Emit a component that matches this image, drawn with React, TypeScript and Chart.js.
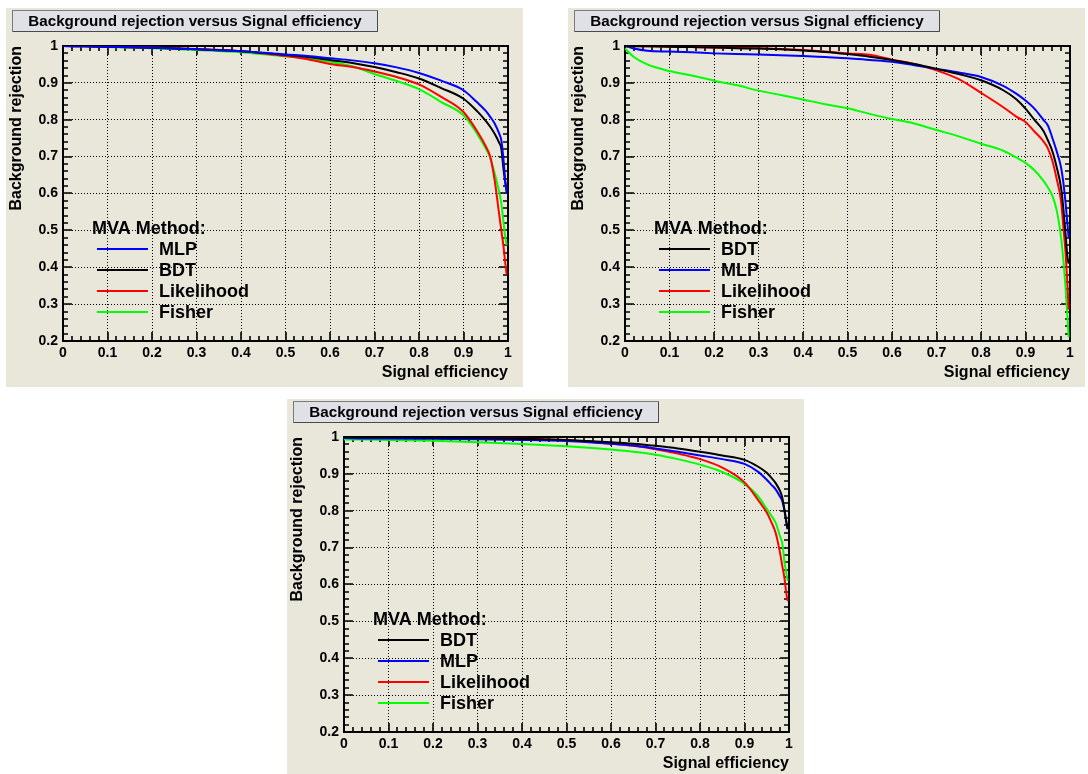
import React, { useEffect, useRef } from 'react';
import { Chart, registerables } from 'chart.js';

Chart.register(...registerables);

// ---------- text ----------
const TITLE = 'Background rejection versus Signal efficiency';
const X_TITLE = 'Signal efficiency';
const Y_TITLE = 'Background rejection';
const LEGEND_HEADER = 'MVA Method:';
const X_TICK_LABELS = ['0', '0.1', '0.2', '0.3', '0.4', '0.5', '0.6', '0.7', '0.8', '0.9', '1'];
const Y_TICK_LABELS = ['0.2', '0.3', '0.4', '0.5', '0.6', '0.7', '0.8', '0.9', '1'];

// ---------- panel 1 (top left) ----------
const P1_EFF = [0, 0.05, 0.1, 0.2, 0.3, 0.4, 0.5, 0.55, 0.6, 0.65, 0.7, 0.75, 0.8, 0.85, 0.9, 0.93, 0.95, 0.96, 0.97, 0.98, 0.985, 0.99, 0.994, 0.997];
const P1_MLP = [1.0, 0.999, 0.998, 0.995, 0.991, 0.986, 0.977, 0.973, 0.967, 0.961, 0.953, 0.942, 0.927, 0.906, 0.88, 0.848, 0.824, 0.808, 0.79, 0.763, 0.744, 0.69, 0.63, 0.6];
const P1_BDT = [1.0, 0.999, 0.998, 0.995, 0.991, 0.986, 0.976, 0.97, 0.962, 0.954, 0.943, 0.929, 0.912, 0.886, 0.857, 0.824, 0.797, 0.781, 0.762, 0.738, 0.722, 0.665, 0.63, 0.61];
const P1_LIKELIHOOD = [1.0, 0.999, 0.998, 0.996, 0.992, 0.986, 0.973, 0.964, 0.951, 0.943, 0.931, 0.916, 0.896, 0.862, 0.821, 0.77, 0.728, 0.7, 0.636, 0.545, 0.5, 0.455, 0.41, 0.38];
const P1_FISHER = [1.0, 0.999, 0.997, 0.994, 0.989, 0.983, 0.972, 0.966, 0.957, 0.945, 0.924, 0.905, 0.883, 0.848, 0.812, 0.763, 0.722, 0.697, 0.655, 0.605, 0.573, 0.52, 0.48, 0.46];

// ---------- panel 2 (top right) ----------
const P2_EFF = [0, 0.02, 0.05, 0.1, 0.15, 0.2, 0.25, 0.3, 0.35, 0.4, 0.45, 0.5, 0.55, 0.6, 0.65, 0.7, 0.75, 0.8, 0.85, 0.88, 0.9, 0.92, 0.94, 0.95, 0.96, 0.97, 0.98, 0.985, 0.99, 0.994, 0.997];
const P2_BDT = [1.0, 0.999, 0.999, 0.998, 0.997, 0.996, 0.994, 0.993, 0.991, 0.988, 0.984, 0.978, 0.971, 0.962, 0.951, 0.938, 0.924, 0.907, 0.88, 0.855, 0.83, 0.8, 0.77, 0.745, 0.716, 0.672, 0.615, 0.56, 0.49, 0.43, 0.41];
const P2_MLP = [1.0, 0.993, 0.987, 0.985, 0.983, 0.98, 0.978, 0.977, 0.975, 0.973, 0.97, 0.967, 0.962, 0.957, 0.948, 0.938, 0.928, 0.916, 0.892, 0.87, 0.852, 0.83, 0.8, 0.785, 0.752, 0.715, 0.67, 0.63, 0.575, 0.52, 0.48];
const P2_LIKELIHOOD = [1.0, 1.0, 0.999, 0.998, 0.997, 0.996, 0.995, 0.994, 0.992, 0.989, 0.985, 0.98, 0.976, 0.963, 0.951, 0.934, 0.91, 0.873, 0.834, 0.808, 0.794, 0.768, 0.742, 0.723, 0.69, 0.64, 0.578, 0.51, 0.44, 0.36, 0.285];
const P2_FISHER = [0.993, 0.97, 0.95, 0.932, 0.92, 0.906, 0.894, 0.879, 0.867, 0.855, 0.842, 0.831, 0.816, 0.802, 0.79, 0.772, 0.755, 0.735, 0.716, 0.697, 0.683, 0.663, 0.635, 0.617, 0.595, 0.555, 0.48, 0.42, 0.345, 0.27, 0.21];

// ---------- panel 3 (bottom) ----------
const P3_EFF = [0, 0.05, 0.1, 0.2, 0.3, 0.4, 0.5, 0.55, 0.6, 0.65, 0.7, 0.75, 0.8, 0.85, 0.9, 0.93, 0.95, 0.96, 0.97, 0.98, 0.985, 0.99, 0.994, 0.997];
const P3_BDT = [1.0, 0.999, 0.999, 0.998, 0.997, 0.995, 0.992, 0.989, 0.986, 0.982, 0.976, 0.969, 0.96, 0.95, 0.938, 0.92, 0.903, 0.89, 0.875, 0.853, 0.835, 0.8, 0.77, 0.75];
const P3_MLP = [0.997, 0.996, 0.996, 0.995, 0.994, 0.992, 0.989, 0.986, 0.982, 0.977, 0.969, 0.96, 0.95, 0.94, 0.927, 0.906, 0.884, 0.871, 0.858, 0.838, 0.826, 0.8, 0.77, 0.75];
const P3_LIKELIHOOD = [1.0, 0.999, 0.999, 0.998, 0.997, 0.995, 0.991, 0.987, 0.982, 0.976, 0.967, 0.955, 0.94, 0.917, 0.877, 0.83, 0.795, 0.77, 0.74, 0.685, 0.65, 0.615, 0.575, 0.555];
const P3_FISHER = [0.993, 0.993, 0.992, 0.99, 0.986, 0.981, 0.975, 0.971, 0.966, 0.96, 0.952, 0.94, 0.925, 0.905, 0.873, 0.84, 0.805, 0.787, 0.767, 0.73, 0.71, 0.66, 0.63, 0.61];

const COLORS: Record<string, string> = {
  MLP: '#0000ff',
  BDT: '#000000',
  Likelihood: '#ff0000',
  Fisher: '#00ff00',
};

type Series = { label: string; x: number[]; y: number[] };

const PANEL1: Series[] = [
  { label: 'MLP', x: P1_EFF, y: P1_MLP },
  { label: 'BDT', x: P1_EFF, y: P1_BDT },
  { label: 'Likelihood', x: P1_EFF, y: P1_LIKELIHOOD },
  { label: 'Fisher', x: P1_EFF, y: P1_FISHER },
];
const PANEL2: Series[] = [
  { label: 'BDT', x: P2_EFF, y: P2_BDT },
  { label: 'MLP', x: P2_EFF, y: P2_MLP },
  { label: 'Likelihood', x: P2_EFF, y: P2_LIKELIHOOD },
  { label: 'Fisher', x: P2_EFF, y: P2_FISHER },
];
const PANEL3: Series[] = [
  { label: 'BDT', x: P3_EFF, y: P3_BDT },
  { label: 'MLP', x: P3_EFF, y: P3_MLP },
  { label: 'Likelihood', x: P3_EFF, y: P3_LIKELIHOOD },
  { label: 'Fisher', x: P3_EFF, y: P3_FISHER },
];

const FONT = "'Liberation Sans', Arial, Helvetica, sans-serif";
const BG = '#e9e6da';

const PLOT_LEFT = 57;
const PLOT_TOP = 38;
const PLOT_RIGHT = 502;
const PLOT_BOTTOM = 333;

const rootPlugin = {
  id: 'rootPanel',
  beforeDraw(chart: any) {
    const { ctx, width, height } = chart;
    ctx.save();
    ctx.fillStyle = BG;
    ctx.fillRect(0, 0, width, height);
    // title box
    const bx = 6, by = 2, bw = 366, bh = 22;
    ctx.fillStyle = '#dfe1e6';
    ctx.fillRect(bx, by, bw, bh);
    ctx.strokeStyle = '#7a7a7a';
    ctx.lineWidth = 1;
    ctx.strokeRect(bx + 0.5, by + 0.5, bw - 1, bh - 1);
    ctx.strokeStyle = '#4a4a4a';
    ctx.beginPath();
    ctx.moveTo(bx + 1, by + bh - 0.5);
    ctx.lineTo(bx + bw - 0.5, by + bh - 0.5);
    ctx.lineTo(bx + bw - 0.5, by + 1);
    ctx.stroke();
    ctx.fillStyle = '#000';
    ctx.font = `bold 15.2px ${FONT}`;
    ctx.textAlign = 'center';
    ctx.textBaseline = 'middle';
    ctx.fillText(TITLE, bx + bw / 2, by + bh / 2 + 1);
    ctx.restore();
  },
  beforeDatasetsDraw(chart: any) {
    const { ctx, chartArea: ca, scales } = chart;
    const xs = scales.x, ys = scales.y;
    ctx.save();
    ctx.strokeStyle = '#000';
    ctx.lineWidth = 2;
    ctx.strokeRect(ca.left, ca.top, ca.right - ca.left, ca.bottom - ca.top);
    ctx.lineWidth = 1.6;
    ctx.beginPath();
    for (let i = 0; i <= 50; i++) {
      const px = Math.round(xs.getPixelForValue(i * 0.02));
      const len = i % 5 === 0 ? 9 : 5;
      ctx.moveTo(px, ca.bottom);
      ctx.lineTo(px, ca.bottom - len);
      ctx.moveTo(px, ca.top);
      ctx.lineTo(px, ca.top + len);
    }
    for (let i = 0; i <= 40; i++) {
      const py = Math.round(ys.getPixelForValue(0.2 + i * 0.02));
      const len = i % 5 === 0 ? 9 : 5;
      ctx.moveTo(ca.left, py);
      ctx.lineTo(ca.left + len, py);
      ctx.moveTo(ca.right, py);
      ctx.lineTo(ca.right - len, py);
    }
    ctx.stroke();
    ctx.restore();
  },
  afterDatasetsDraw(chart: any) {
    const { ctx, chartArea: ca } = chart;
    ctx.save();
    ctx.fillStyle = '#000';
    ctx.font = `bold 18px ${FONT}`;
    ctx.textAlign = 'left';
    ctx.textBaseline = 'middle';
    ctx.fillText(LEGEND_HEADER, ca.left + 29, ca.top + 183);
    chart.data.datasets.forEach((ds: any, i: number) => {
      const y = ca.top + 203 + i * 21;
      ctx.strokeStyle = ds.borderColor;
      ctx.lineWidth = 2;
      ctx.beginPath();
      ctx.moveTo(ca.left + 34, y);
      ctx.lineTo(ca.left + 85, y);
      ctx.stroke();
      ctx.fillStyle = '#000';
      ctx.fillText(ds.label, ca.left + 96, y + 1);
    });
    ctx.restore();
  },
};

function Panel({ left, top, width, height, series }: { left: number; top: number; width: number; height: number; series: Series[] }) {
  const ref = useRef<HTMLCanvasElement>(null);
  useEffect(() => {
    const canvas = ref.current;
    if (!canvas) return;
    const xTitleCenter = PLOT_BOTTOM + 32;
    const xTitlePad = Math.max(0, height - xTitleCenter - 9.6);
    const chart = new Chart(canvas, {
      type: 'scatter',
      data: {
        datasets: series.map((s) => ({
          label: s.label,
          data: s.x.map((x, i) => ({ x, y: s.y[i] })),
          borderColor: COLORS[s.label],
          backgroundColor: COLORS[s.label],
          borderWidth: 2,
          showLine: true,
          pointRadius: 0,
          pointHoverRadius: 0,
          fill: false,
          cubicInterpolationMode: 'monotone',
        })),
      },
      options: {
        responsive: false,
        animation: false,
        devicePixelRatio: 1,
        events: [],
        layout: { padding: { top: PLOT_TOP, right: width - PLOT_RIGHT, left: 0, bottom: 0 } },
        plugins: {
          legend: { display: false },
          tooltip: { enabled: false },
          title: { display: false },
        },
        scales: {
          x: {
            type: 'linear',
            min: 0,
            max: 1,
            afterFit: (s: any) => {
              s.height = height - PLOT_BOTTOM;
            },
            ticks: {
              stepSize: 0.1,
              autoSkip: false,
              maxRotation: 0,
              padding: 4,
              color: '#000',
              font: { family: FONT, size: 14, weight: 'bold' },
              callback: (_v: any, i: number) => X_TICK_LABELS[i],
            },
            grid: { color: '#000', lineWidth: 1, drawTicks: false },
            border: { display: false, dash: [1, 2] },
            title: {
              display: true,
              text: X_TITLE,
              align: 'end',
              color: '#000',
              font: { family: FONT, size: 16, weight: 'bold' },
              padding: { top: 0, bottom: xTitlePad },
            },
          },
          y: {
            type: 'linear',
            min: 0.2,
            max: 1,
            afterFit: (s: any) => {
              s.width = PLOT_LEFT;
            },
            ticks: {
              stepSize: 0.1,
              autoSkip: false,
              padding: 5,
              color: '#000',
              font: { family: FONT, size: 14, weight: 'bold' },
              callback: (_v: any, i: number) => Y_TICK_LABELS[i],
            },
            grid: { color: '#000', lineWidth: 1, drawTicks: false },
            border: { display: false, dash: [1, 2] },
            title: {
              display: true,
              text: Y_TITLE,
              align: 'end',
              color: '#000',
              font: { family: FONT, size: 16, weight: 'bold' },
              padding: { top: 0.5, bottom: 0 },
            },
          },
        },
      } as any,
      plugins: [rootPlugin],
    });
    return () => chart.destroy();
  }, []);
  return (
    <div style={{ position: 'absolute', left, top, width, height }}>
      <canvas ref={ref} width={width} height={height} style={{ display: 'block', width, height }} />
    </div>
  );
}

export default function App() {
  return (
    <div style={{ position: 'fixed', left: 0, top: 0, width: 1088, height: 774, background: '#ffffff', overflow: 'hidden' }}>
      <Panel left={6} top={8} width={517} height={379} series={PANEL1} />
      <Panel left={568} top={8} width={517} height={379} series={PANEL2} />
      <Panel left={287} top={399} width={517} height={375} series={PANEL3} />
    </div>
  );
}
